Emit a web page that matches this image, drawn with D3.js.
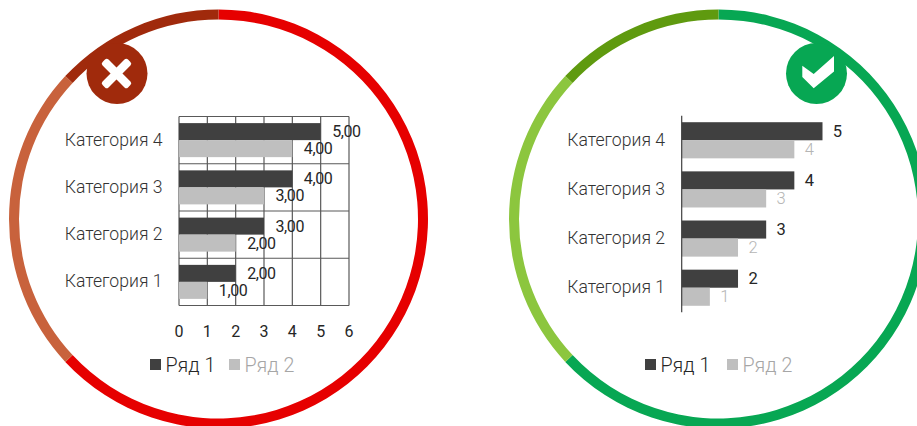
<!DOCTYPE html>
<html lang="ru">
<head>
<meta charset="utf-8">
<style>
html,body{margin:0;padding:0;background:#fff;overflow:hidden}
svg{display:block}
text{font-family:Roboto,sans-serif}
</style>
<script src="https://cdn.jsdelivr.net/npm/d3@7/dist/d3.min.js"></script>
</head>
<body>
<svg id="chart" width="917" height="426"></svg>
<script>
const categories = ["Категория 1", "Категория 2", "Категория 3", "Категория 4"];
const series1 = [2, 3, 4, 5];
const series2 = [1, 2, 3, 4];
const seriesNames = ["Ряд 1", "Ряд 2"];
const xTicks = [0, 1, 2, 3, 4, 5, 6];

// ring sections in degrees, clockwise from twelve o'clock
const ringStops = [0, 227, 313, 360];
const badRing = ["#e60000", "#c8623c", "#a02a0c"];
const goodRing = ["#07a753", "#8cc63e", "#5f9a0f"];

const DARK = "#404040", LIGHT = "#bfbfbf";
const svg = d3.select("#chart");

function ring(cx, cy, colors) {
  const arc = d3.arc().innerRadius(199.5).outerRadius(209.5);
  const g = svg.append("g").attr("transform", `translate(${cx},${cy})`);
  colors.forEach((c, i) => {
    g.append("path").attr("fill", c).attr("d", arc({
      startAngle: ringStops[i] * Math.PI / 180,
      endAngle: ringStops[i + 1] * Math.PI / 180
    }));
  });
}

function legend(x1, x2, y) {
  [x1, x2].forEach((x, i) => {
    svg.append("rect").attr("x", x).attr("y", y - 5.5).attr("width", 11).attr("height", 11)
      .attr("fill", i ? LIGHT : DARK);
    svg.append("text").attr("x", x + 15.5).attr("y", y + 7)
      .attr("font-size", 19.7).attr("font-weight", 300)
      .attr("fill", i ? "#a6a6a6" : "#262626").text(seriesNames[i]);
  });
}

function bars(g, x, y) {
  const half = y.bandwidth() / 2;
  categories.forEach((c, i) => {
    g.append("rect").attr("x", x(0)).attr("y", y(c)).attr("width", x(series1[i]) - x(0))
      .attr("height", half).attr("fill", DARK);
    g.append("rect").attr("x", x(0)).attr("y", y(c) + half).attr("width", x(series2[i]) - x(0))
      .attr("height", half).attr("fill", LIGHT);
  });
}

function categoryLabels(g, y, endX) {
  categories.forEach(c => {
    g.append("text").attr("x", endX).attr("y", y(c) + y.bandwidth() / 2 + 5.5)
      .attr("text-anchor", "end").attr("font-size", 17.6).attr("font-weight", 300)
      .attr("fill", "#333").text(c);
  });
}

// Left panel: cluttered chart with full grid and decimal labels
ring(218.5, 219, badRing);
{
  const x = d3.scaleLinear().domain([0, 6]).range([179, 349]);
  const y = d3.scaleBand().domain(categories.slice().reverse()).range([116.5, 305.5])
    .paddingInner(0.28).paddingOuter(0.14);
  const g = svg.append("g");
  const step = y.step();
  const grid = g.append("g").attr("stroke", "#595959").attr("stroke-width", 1.2).attr("fill", "none");
  xTicks.forEach(t => grid.append("line").attr("x1", x(t)).attr("x2", x(t)).attr("y1", 116.5).attr("y2", 305.5));
  d3.range(5).forEach(i => grid.append("line").attr("x1", 179).attr("x2", 349)
    .attr("y1", 116.5 + i * step).attr("y2", 116.5 + i * step));
  bars(g, x, y);
  categoryLabels(g, y, 162.5);
  const fmt = v => d3.format(".2f")(v).replace(".", ",");
  const valueLabel = (vx, vy, v) => g.append("text").attr("x", vx).attr("y", vy)
    .attr("font-size", 16).attr("font-family", "'Open Sans',sans-serif").attr("fill", "#262626")
    .attr("letter-spacing", -0.4).text(fmt(v));
  categories.forEach((c, i) => {
    const h = y.bandwidth() / 2;
    valueLabel(x(series1[i]) + 11.5, y(c) + h / 2 + 5.5, series1[i]);
    valueLabel(x(series2[i]) + 11.5, y(c) + h * 1.5 + 5.5, series2[i]);
  });
  const axis = d3.axisBottom(x).tickValues(xTicks).tickFormat(d3.format("d")).tickSize(0).tickPadding(0);
  const ax = g.append("g").attr("transform", "translate(-0.5,328)").call(axis);
  ax.select(".domain").remove();
  ax.selectAll("text").attr("font-size", 16).attr("font-family", "'Open Sans',sans-serif")
    .attr("fill", "#262626").attr("dy", "0.55em");
}
legend(150, 229, 364.5);

// Badge with a cross
svg.append("circle").attr("cx", 117).attr("cy", 73.5).attr("r", 30.5).attr("fill", "#a02a0c");
svg.append("g").attr("transform", "translate(116.5,73.5) rotate(45)").attr("fill", "#fff")
  .selectAll("rect").data([[-18, -4.2, 36, 8.4], [-4.2, -18, 8.4, 36]]).join("rect")
  .attr("x", d => d[0]).attr("y", d => d[1]).attr("width", d => d[2]).attr("height", d => d[3]).attr("rx", 2.5);

// Right panel: clean chart with only an axis line and direct labels
ring(718.5, 219, goodRing);
{
  const x = d3.scaleLinear().domain([0, 5]).range([681.7, 822.5]);
  const y = d3.scaleBand().domain(categories.slice().reverse()).range([115.7, 312.3])
    .paddingInner(0.265).paddingOuter(0.1325);
  const g = svg.append("g");
  bars(g, x, y);
  g.append("line").attr("x1", x(0)).attr("x2", x(0)).attr("y1", 115.7).attr("y2", 312.3)
    .attr("stroke", "#404040").attr("stroke-width", 1.2);
  categoryLabels(g, y, 665);
  categories.forEach((c, i) => {
    const h = y.bandwidth() / 2;
    g.append("text").attr("x", x(series1[i]) + 15).attr("y", y(c) + h / 2 + 5.5)
      .attr("text-anchor", "middle").attr("font-size", 16.5).attr("fill", "#262626").text(series1[i]);
    g.append("text").attr("x", x(series2[i]) + 15).attr("y", y(c) + h * 1.5 + 5.5)
      .attr("text-anchor", "middle").attr("font-size", 16.5).attr("font-weight", 300).attr("fill", "#b5b5b5").text(series2[i]);
  });
}
legend(645, 727, 364.5);

// Badge with a check mark
svg.append("circle").attr("cx", 816.5).attr("cy", 73.5).attr("r", 30.5).attr("fill", "#07a753");
svg.append("path").attr("fill", "#fff")
  .attr("d", "M802.3,65.7 L813.7,74 L834,56 L834,71.5 L813.7,88.3 L802.3,77 Z");
</script>
</body>
</html>
